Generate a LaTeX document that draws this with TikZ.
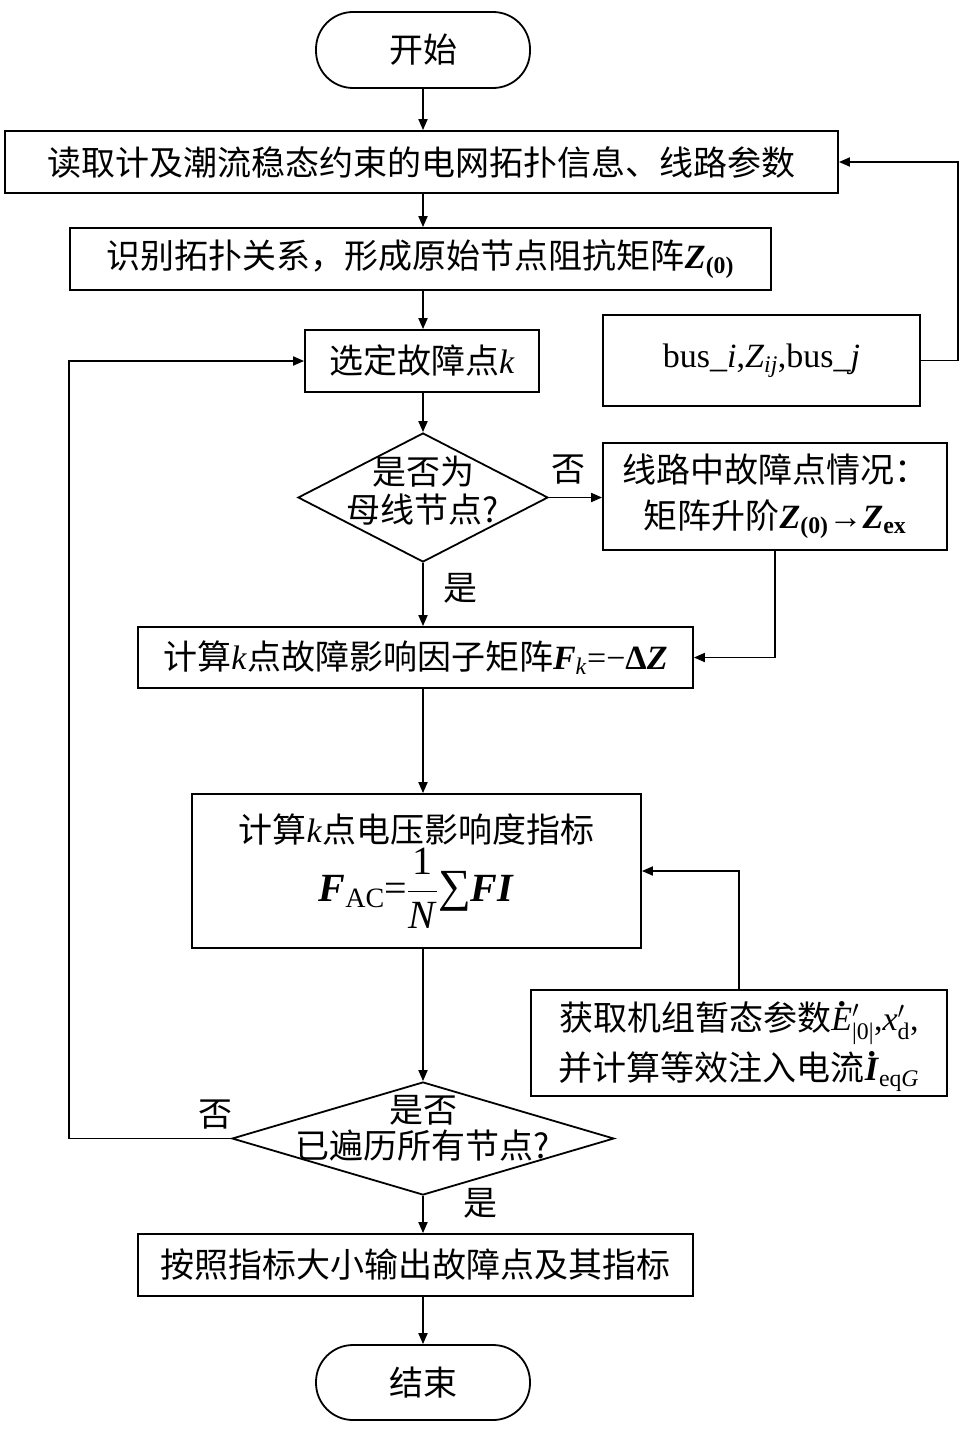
\RequirePackage{fix-cm}
\documentclass[tikz,border=0pt]{standalone}
\usepackage{amsmath}
\usepackage{fontspec}
\setmainfont{Liberation Serif}
\newfontfamily\cjk{Noto Sans CJK SC}
\usetikzlibrary{arrows.meta,shapes.geometric,calc}
\newcommand{\lt}[1]{{\rmfamily #1}}
\newcommand{\tx}[1]{\text{\rmfamily #1}}
\newcommand{\bi}[1]{\textbf{\textit{#1}}}
\newcommand{\dotover}[1]{\ooalign{#1\cr\hidewidth\raisebox{0.72em}{\rmfamily\textbf{.}}\hidewidth\cr}}
\tikzset{
  every node/.style={font=\cjk\fontsize{34}{40}\selectfont},
  box/.style={draw, line width=1.8pt, rectangle, inner sep=0pt, align=center},
  term/.style={draw, line width=1.8pt, rectangle, rounded corners=37pt, inner sep=0pt},
  dia/.style={draw, line width=1.8pt, diamond, inner sep=0pt},
  arr/.style={line width=1.8pt, -{Triangle[length=11pt,width=9pt]}},
  lbl/.style={inner sep=0pt}
}
\begin{document}
\begin{tikzpicture}[x=1pt,y=-1pt]
\useasboundingbox (0,0) rectangle (961,1429);
\node[term, minimum width=214pt, minimum height=76pt] (start) at (423,50) {开始};
\node[box, minimum width=833pt, minimum height=62pt] (b1) at (421.5,162) {读取计及潮流稳态约束的电网拓扑信息、线路参数};
\node[box, minimum width=701pt, minimum height=62pt] (b2) at (420.5,259) {识别拓扑关系，形成原始节点阻抗矩阵$\tx{\bi{Z}}_{\tx{\textbf{(0)}}}$};
\node[box, minimum width=234pt, minimum height=62pt] (b3) at (422,361) {选定故障点\lt{\textit{k}}};
\node[box, minimum width=317pt, minimum height=91pt] (bus) at (761.5,360.5) {\rmfamily bus\_\textit{i},$\tx{\textit{Z}}_{\tx{\textit{ij}}}$,bus\_\textit{j}};
\node[dia, minimum width=250pt, minimum height=129pt] (d1) at (423,497.5) {};
\node[align=center, inner sep=0pt] (d1t) at (423,491) {是否为\\[-2pt]母线节点?};
\node[box, minimum width=344pt, minimum height=107pt] (lb) at (775,496.5) {线路中故障点情况：\\[6pt]矩阵升阶$\tx{\bi{Z}}_{\tx{\textbf{(0)}}}\tx{→}\tx{\bi{Z}}_{\tx{\textbf{ex}}}$};
\node[box, minimum width=555pt, minimum height=61pt] (bF) at (415.5,657.5) {计算\lt{\textit{k}}点故障影响因子矩阵$\tx{\bi{F}}_{\tx{\textit{k}}}\tx{=−\textbf{Δ}\bi{Z}}$};
\node[box, minimum width=449pt, minimum height=154pt] (bFAC) at (416.5,871) {计算\lt{\textit{k}}点电压影响度指标\\[2pt]{\fontsize{40}{46}\selectfont$\tx{\bi{F}}_{\tx{AC}}\tx{=}\dfrac{\tx{1}}{\tx{\textit{N}}}\tx{\fontsize{46}{46}\selectfont ∑}\tx{\bi{FI}}$}};
\node[box, minimum width=416pt, minimum height=106pt] (gen) at (739,1043) {获取机组暂态参数\smash{$\tx{\dotover{\textit{E}}}'_{\tx{|0|}}\tx{,}\tx{\textit{x}}'_{\tx{d}}\tx{,}$}\\[10pt]并计算等效注入电流\smash{$\tx{\dotover{\bi{I}}}_{\tx{eq\textit{G}}}$}};
\node[dia, minimum width=382pt, minimum height=113pt] (d2) at (423,1138.5) {};
\node[align=center, inner sep=0pt] (d2t) at (423,1128) {是否\\[-4pt]已遍历所有节点?};
\node[box, minimum width=555pt, minimum height=62pt] (out) at (415.5,1265) {按照指标大小输出故障点及其指标};
\node[term, minimum width=214pt, minimum height=75pt] (end) at (423,1382.5) {结束};
\node[lbl] (no1) at (568,470) {否};
\node[lbl] (yes1) at (460,588) {是};
\node[lbl] (no2) at (215,1115) {否};
\node[lbl] (yes2) at (480,1203) {是};
\draw[arr] (start.south) -- (start.south |- b1.north);
\draw[arr] (b1.south -| start.south) -- (b2.north -| start.south);
\draw[arr] (b2.south -| start.south) -- (b3.north -| start.south);
\draw[arr] (b3.south -| start.south) -- (d1.north);
\draw[arr] (d1.south) -- (d1.south |- bF.north);
\draw[arr] (bF.south -| start.south) -- (bFAC.north -| start.south);
\draw[arr] (bFAC.south -| start.south) -- (d2.north);
\draw[arr] (d2.south) -- (d2.south |- out.north);
\draw[arr] (out.south -| start.south) -- (end.north);
\draw[arr] (bus.east) -- ++(37,0) |- (b1.east);
\draw[arr] (d1.east) -- (d1.east -| lb.west);
\draw[arr] (lb.south) |- (bF.east);
\draw[arr] (gen.north) |- (bFAC.east);
\draw[arr] (d2.west) -- ++(-162,0) |- (b3.west);
\end{tikzpicture}
\end{document}
